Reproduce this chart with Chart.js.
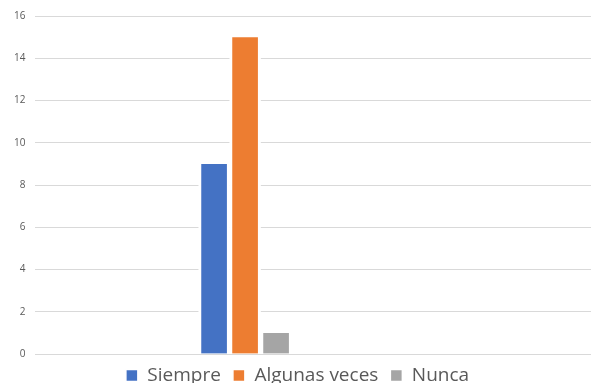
<!DOCTYPE html>
<html>
<head>
<meta charset="utf-8">
<script src="https://cdn.jsdelivr.net/npm/chart.js@4/dist/chart.umd.min.js"></script>
<style>
    html, body { margin: 0; padding: 0; background: #fff; overflow: hidden; }
    #wrap { width: 591px; height: 395px; }
</style>
</head>
<body>
<div id="wrap"><canvas id="answersChart"></canvas></div>
<script>
const categories = [''];
const seriesNames = ['Siempre', 'Algunas veces', 'Nunca'];
const siempre = [9];
const algunasVeces = [15];
const nunca = [1];
const yTicks = [0, 2, 4, 6, 8, 10, 12, 14, 16];

const colors = ['#4472C4', '#ED7D31', '#A5A5A5'];
const seriesValues = [siempre, algunasVeces, nunca];

function toPoints(values) {
    return values.map((v, i) => ({ x: i, y: v }));
}

const datasets = seriesNames.map((name, i) => ({
    label: name,
    data: toPoints(seriesValues[i]),
    backgroundColor: colors[i],
    borderColor: '#ffffff',
    borderWidth: { left: 3, right: 3, top: 0, bottom: 0 },
    borderSkipped: false,
    barThickness: 31
}));

const ctx = document.getElementById('answersChart').getContext('2d');
new Chart(ctx, {
    type: 'bar',
    data: { labels: categories, datasets: datasets },
    options: {
        responsive: true,
        maintainAspectRatio: false,
        animation: false,
        layout: { padding: { top: 13, left: 4, right: 0, bottom: 0 } },
        scales: {
            x: {
                type: 'linear',
                offset: false,
                min: -1,
                max: 1.65,
                display: false
            },
            y: {
                min: yTicks[0],
                max: yTicks[yTicks.length - 1],
                border: { display: false },
                grid: { color: '#d9d9d9', drawTicks: false },
                ticks: {
                    stepSize: 2,
                    padding: 10,
                    color: '#595959',
                    font: { family: 'Open Sans', size: 10 }
                },
                afterBuildTicks(scale) {
                    scale.ticks = yTicks.map(v => ({ value: v }));
                }
            }
        },
        plugins: {
            tooltip: { enabled: false },
            legend: {
                position: 'bottom',
                labels: {
                    boxWidth: 12,
                    boxHeight: 12,
                    padding: 12,
                    color: '#595959',
                    font: { family: 'Open Sans', size: 19 }
                }
            }
        }
    }
});
</script>
</body>
</html>
